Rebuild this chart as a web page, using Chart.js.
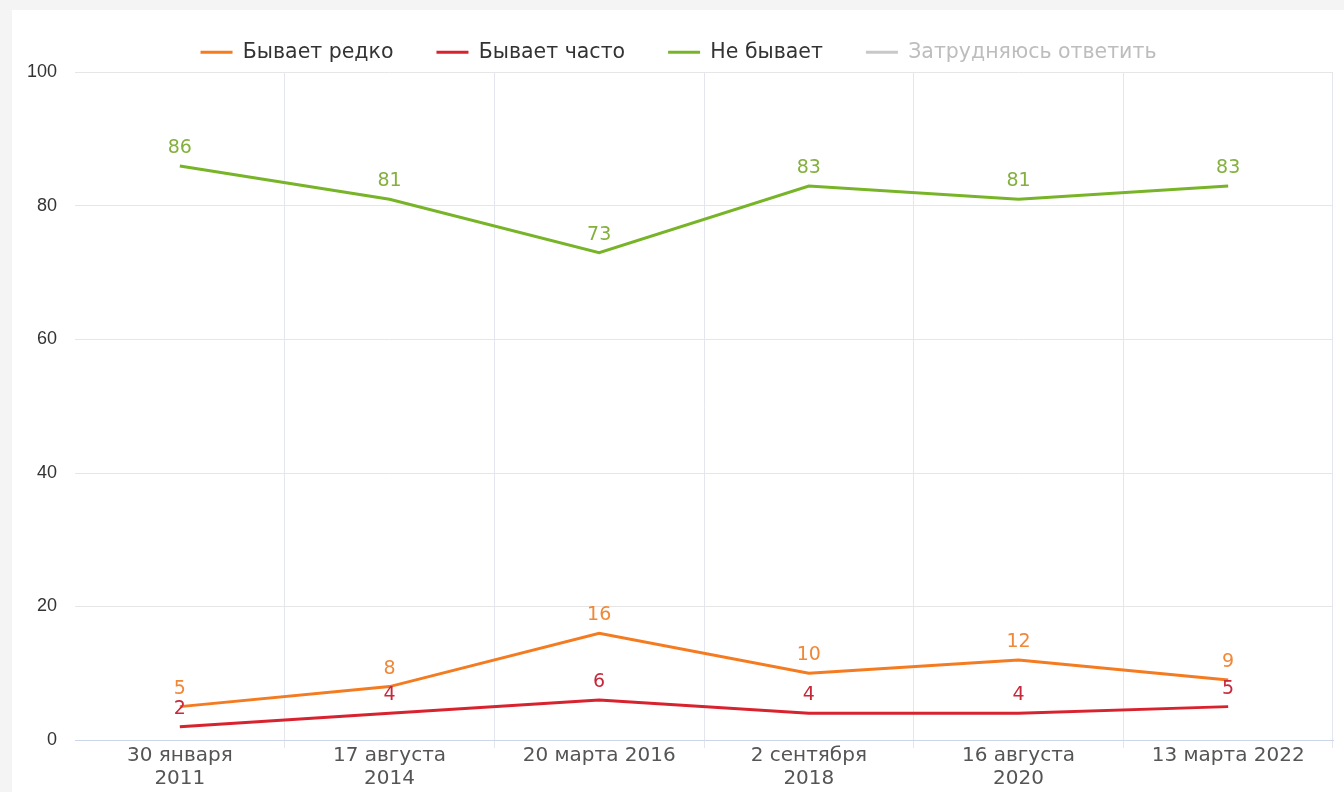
<!DOCTYPE html>
<html>
<head>
<meta charset="utf-8">
<script src="https://cdn.jsdelivr.net/npm/chart.js@4/dist/chart.umd.min.js"></script>
<style>
  html, body { margin: 0; padding: 0; background: #f4f4f4; width: 1344px; height: 792px; overflow: hidden; }
  #card { position: absolute; left: 12px; top: 10px; width: 1340px; height: 790px; background: #ffffff; }
  #wrap { position: absolute; left: 0; top: 0; width: 1344px; height: 792px; }
</style>
</head>
<body>
<div id="card"></div>
<div id="wrap"><canvas id="c" width="1344" height="792"></canvas></div>
<script>
const categories = [
  ['30 января', '2011'],
  ['17 августа', '2014'],
  '20 марта 2016',
  ['2 сентября', '2018'],
  ['16 августа', '2020'],
  '13 марта 2022'
];
const seriesNames = ['Бывает редко', 'Бывает часто', 'Не бывает', 'Затрудняюсь ответить'];
const rarelyValues = [5, 8, 16, 10, 12, 9];
const oftenValues = [2, 4, 6, 4, 4, 5];
const neverValues = [86, 81, 73, 83, 81, 83];
const hardToSayValues = [7, 7, 5, 3, 3, 3];
const yTicks = [0, 20, 40, 60, 80, 100];

const lineColors = ['#f47b20', '#d8232f', '#78b428', '#c8c8c8'];
const labelColors = ['#ef8838', '#c8283a', '#84b03e', '#aaaaaa'];

const valueLabels = {
  id: 'valueLabels',
  afterLayout(chart) {
    if (chart.legend) {
      chart.legend.left += 12;
      chart.legend.right += 12;
    }
  },
  afterDatasetsDraw(chart) {
    const ctx = chart.ctx;
    ctx.save();
    ctx.font = '19px "DejaVu Sans"';
    ctx.textAlign = 'center';
    ctx.textBaseline = 'middle';
    chart.data.datasets.forEach((ds, di) => {
      if (!chart.isDatasetVisible(di)) return;
      const meta = chart.getDatasetMeta(di);
      ctx.fillStyle = labelColors[di];
      meta.data.forEach((pt, i) => {
        ctx.fillText(String(ds.data[i]), pt.x, pt.y - 18);
      });
    });
    ctx.restore();
  }
};

const makeDs = (label, data, idx, hidden) => ({
  label, data,
  borderColor: lineColors[idx],
  backgroundColor: lineColors[idx],
  borderWidth: 3,
  pointRadius: 0,
  pointHoverRadius: 0,
  tension: 0,
  fill: false,
  hidden: !!hidden
});

new Chart(document.getElementById('c'), {
  type: 'line',
  data: {
    labels: categories,
    datasets: [
      makeDs(seriesNames[0], rarelyValues, 0),
      makeDs(seriesNames[1], oftenValues, 1),
      makeDs(seriesNames[2], neverValues, 2),
      makeDs(seriesNames[3], hardToSayValues, 3, true)
    ]
  },
  options: {
    responsive: false,
    animation: false,
    layout: { padding: { top: -1, left: 0, right: 11, bottom: 6 } },
    plugins: {
      tooltip: { enabled: false },
      legend: {
        position: 'top',
        align: 'center',
        labels: {
          font: { family: '"DejaVu Sans"', size: 20.5 },
          color: '#333333',
          boxWidth: 32,
          boxHeight: 3,
          padding: 43,
          generateLabels(chart) {
            return chart.data.datasets.map((ds, i) => ({
              text: ds.label,
              fillStyle: lineColors[i],
              strokeStyle: lineColors[i],
              lineWidth: 0,
              hidden: false,
              fontColor: i === 3 ? '#bdbdbd' : '#333333',
              datasetIndex: i
            }));
          }
        }
      }
    },
    scales: {
      x: {
        offset: true,
        grid: {
          offset: true,
          color: (c) => (c.index === 0 ? 'rgba(0,0,0,0)' : '#e3e6ec'),
          lineWidth: 1,
          drawTicks: true,
          tickLength: 8
        },
        border: { display: true, color: '#ccd6eb', width: 1 },
        ticks: {
          color: '#555555',
          font: { family: '"DejaVu Sans"', size: 20, lineHeight: 1.15 },
          padding: -4,
          maxRotation: 0,
          autoSkip: false
        }
      },
      y: {
        min: 0,
        max: 100,
        afterFit(scale) { scale.width = 75; },
        afterBuildTicks(scale) { scale.ticks = yTicks.map(v => ({ value: v })); },
        grid: { color: '#e6e6e6', lineWidth: 1, drawTicks: false },
        border: { display: false },
        ticks: {
          color: '#333333',
          font: { family: '"Liberation Sans", Arial', size: 18 },
          padding: 18
        }
      }
    }
  },
  plugins: [valueLabels]
});
</script>
</body>
</html>
